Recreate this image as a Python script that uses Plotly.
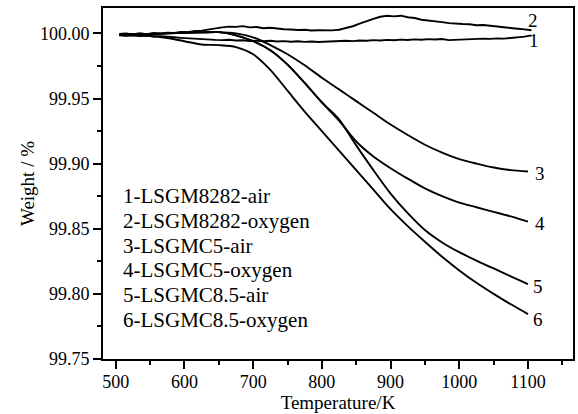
import plotly.graph_objects as go

# ---------------- data ----------------
temp_fine = [505, 515, 525, 535, 545, 555, 565, 575, 585, 595,
             605, 615, 625, 635, 645, 655, 665, 675, 685, 695,
             705, 715, 725, 735, 745, 755, 765, 775, 785, 795,
             805, 815, 825, 835, 845, 855, 865, 875, 885, 895,
             905, 915, 925, 935, 945, 955, 965, 975, 985, 995,
             1005, 1015, 1025, 1035, 1045, 1055, 1065, 1075, 1085, 1095, 1105]

w_lsgm8282_air = [99.9988, 99.9982, 99.9987, 99.9979, 99.9984, 99.9976, 99.9979, 99.9972, 99.9970, 99.9966,
                  99.9962, 99.9958, 99.9955, 99.9953, 99.9950, 99.9948, 99.9951, 99.9945, 99.9947, 99.9942,
                  99.9944, 99.9940, 99.9943, 99.9938, 99.9941, 99.9936, 99.9940, 99.9935, 99.9938, 99.9934,
                  99.9937, 99.9940, 99.9938, 99.9943, 99.9941, 99.9946, 99.9944, 99.9948, 99.9946, 99.9950,
                  99.9947, 99.9952, 99.9949, 99.9954, 99.9951, 99.9956, 99.9953, 99.9957, 99.9948, 99.9950,
                  99.9955, 99.9958, 99.9956, 99.9960, 99.9958, 99.9962, 99.9960, 99.9965, 99.9968, 99.9975, 99.9985]

w_lsgm8282_oxygen = [99.9995, 100.0000, 99.9992, 100.0001, 99.9994, 100.0003, 99.9998, 100.0006, 100.0004, 100.0012,
                     100.0009, 100.0018, 100.0021, 100.0030, 100.0042, 100.0046, 100.0052, 100.0050, 100.0056, 100.0046,
                     100.0049, 100.0040, 100.0043, 100.0035, 100.0032, 100.0030, 100.0026, 100.0028, 100.0022, 100.0024,
                     100.0021, 100.0023, 100.0028, 100.0040, 100.0055, 100.0075, 100.0095, 100.0112, 100.0128, 100.0135,
                     100.0131, 100.0136, 100.0124, 100.0118, 100.0105, 100.0100, 100.0090, 100.0087, 100.0079, 100.0078,
                     100.0072, 100.0070, 100.0063, 100.0064, 100.0056, 100.0053, 100.0047, 100.0044, 100.0036, 100.0031, 100.0024]

temp = [505, 525, 550, 575, 600, 625, 650, 675, 700, 725, 750, 775, 800,
        825, 850, 875, 900, 925, 950, 975, 1000, 1025, 1050, 1075, 1100]

w_lsgmc5_air = [99.9990, 99.9993, 99.9995, 100.0000, 100.0005, 100.0008, 100.0010, 100.0000, 99.9970,
                99.9910, 99.9840, 99.9755, 99.9660, 99.9570, 99.9480, 99.9390, 99.9300, 99.9220,
                99.9145, 99.9085, 99.9035, 99.9000, 99.8970, 99.8950, 99.8940]

w_lsgmc5_oxygen = [99.9990, 99.9993, 99.9995, 100.0000, 100.0005, 100.0008, 100.0010, 99.9985, 99.9940,
                   99.9870, 99.9760, 99.9620, 99.9470, 99.9330, 99.9170, 99.9055, 99.8965, 99.8885,
                   99.8810, 99.8750, 99.8700, 99.8665, 99.8630, 99.8595, 99.8555]

w_lsgmc85_air = [99.9990, 99.9993, 99.9995, 100.0000, 100.0005, 100.0008, 100.0010, 99.9985, 99.9940,
                 99.9870, 99.9760, 99.9620, 99.9470, 99.9340, 99.9140, 99.8950, 99.8770, 99.8620,
                 99.8490, 99.8395, 99.8320, 99.8255, 99.8195, 99.8135, 99.8075]

w_lsgmc85_oxygen = [99.9985, 99.9983, 99.9980, 99.9965, 99.9940, 99.9915, 99.9910, 99.9895, 99.9840,
                    99.9720, 99.9560, 99.9400, 99.9250, 99.9100, 99.8950, 99.8800, 99.8650, 99.8520,
                    99.8400, 99.8285, 99.8180, 99.8085, 99.8000, 99.7920, 99.7845]

legend_lines = ["1-LSGM8282-air", "2-LSGM8282-oxygen", "3-LSGMC5-air",
                "4-LSGMC5-oxygen", "5-LSGMC8.5-air", "6-LSGMC8.5-oxygen"]
end_labels = ["1", "2", "3", "4", "5", "6"]

x_ticks = [500, 600, 700, 800, 900, 1000, 1100]
y_ticks = [99.75, 99.80, 99.85, 99.90, 99.95, 100.00]

# ---------------- figure ----------------
FONT = "Times New Roman, Liberation Serif, DejaVu Serif, serif"
series = [
    (temp_fine, w_lsgm8282_air),
    (temp_fine, w_lsgm8282_oxygen),
    (temp, w_lsgmc5_air),
    (temp, w_lsgmc5_oxygen),
    (temp, w_lsgmc85_air),
    (temp, w_lsgmc85_oxygen),
]

fig = go.Figure()
for i, (xs, ys) in enumerate(series):
    line = dict(color="black", width=1.9)
    if i >= 2:
        line.update(shape="spline", smoothing=0.8)
    fig.add_trace(go.Scatter(
        x=xs, y=ys, mode="lines", name=legend_lines[i],
        line=line, showlegend=False, hoverinfo="skip"))

label_pos = [(1109, 99.9949), (1107, 100.0102), (1117, 99.8924),
             (1117, 99.8540), (1115, 99.8057), (1115, 99.7800)]
for lab, (lx, ly) in zip(end_labels, label_pos):
    fig.add_annotation(x=lx, y=ly, text=lab, showarrow=False,
                       xanchor="center", yanchor="middle",
                       font=dict(family=FONT, size=19, color="black"))

legend_y = [99.8752, 99.8562, 99.8367, 99.8183, 99.7990, 99.7798]
for txt, ly in zip(legend_lines, legend_y):
    fig.add_annotation(x=507, y=ly, text=txt, showarrow=False,
                       xanchor="left", yanchor="middle",
                       font=dict(family=FONT, size=21, color="black"))

axis_common = dict(
    showgrid=False, zeroline=False, showline=True, linecolor="black",
    linewidth=2, mirror=True, ticks="outside", ticklen=8, tickwidth=2,
    tickcolor="black", tickfont=dict(family=FONT, size=18, color="black"),
)

fig.update_xaxes(
    range=[481.5, 1165.5], tickvals=x_ticks, ticklabelstandoff=-3,
    minor=dict(ticks="outside", ticklen=4, tickwidth=2, tickcolor="black", dtick=50, tick0=500),
    title=dict(text="Temperature/K", font=dict(family=FONT, size=19, color="black"), standoff=0),
    **axis_common)
fig.update_yaxes(
    range=[99.75, 100.0195], tickvals=y_ticks, tickformat=".2f",
    minor=dict(ticks="outside", ticklen=4, tickwidth=2, tickcolor="black", dtick=0.025, tick0=99.75),
    title=dict(text="Weight / %", font=dict(family=FONT, size=19, color="black"), standoff=0),
    **axis_common)

fig.update_layout(
    width=578, height=414,
    margin=dict(l=103, r=5, t=8, b=55, autoexpand=False),
    plot_bgcolor="white", paper_bgcolor="white",
    font=dict(family=FONT, color="black"),
)

fig.write_html("out.html")
